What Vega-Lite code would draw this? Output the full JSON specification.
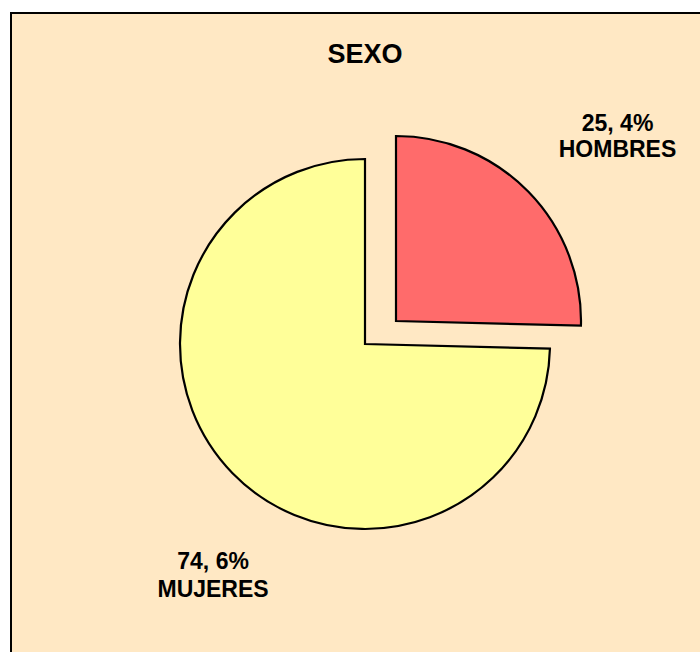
{
  "$schema": "https://vega.github.io/schema/vega-lite/v6.json",
  "autosize": "none",
  "padding": {"left": 11, "top": 13, "right": 0, "bottom": 0},
  "width": 708,
  "height": 662,
  "background": "#FFFFFF",
  "view": {"fill": "#FFE8C4", "stroke": "#000000", "strokeWidth": 2},
  "config": {
    "view": {"fill": "#FFE8C4", "stroke": "#000000", "strokeWidth": 2},
    "font": "Liberation Sans"
  },
  "title": {
    "text": "SEXO",
    "fontSize": 27,
    "fontWeight": "bold",
    "font": "Liberation Sans",
    "color": "#000000",
    "anchor": "middle",
    "baseline": "alphabetic",
    "offset": -50,
    "dy": 27
  },
  "data": {
    "values": [
      {"sexo": "HOMBRES", "porcentaje": 25.4, "etiqueta": "25, 4%\nHOMBRES"},
      {"sexo": "MUJERES", "porcentaje": 74.6, "etiqueta": "74, 6%\nMUJERES"}
    ]
  },
  "transform": [
    {"stack": "porcentaje", "groupby": [], "sort": [{"field": "sexo", "order": "ascending"}], "as": ["v0", "v1"]}
  ],
  "layer": [
    {
      "transform": [{"filter": "datum.sexo === 'MUJERES'"}],
      "mark": {"type": "arc", "radius": 185, "stroke": "#000000", "strokeWidth": 2.2, "strokeJoin": "miter"},
      "encoding": {
        "theta": {"field": "v0", "type": "quantitative", "scale": {"domain": [0, 100]}},
        "theta2": {"field": "v1"},
        "fill": {"field": "sexo", "type": "nominal", "scale": {"domain": ["HOMBRES", "MUJERES"], "range": ["#FF6B6B", "#FFFF99"]}, "legend": null}
      }
    },
    {
      "transform": [{"filter": "datum.sexo === 'HOMBRES'"}],
      "mark": {"type": "arc", "radius": 185, "stroke": "#000000", "strokeWidth": 2.2, "strokeJoin": "miter", "xOffset": 31, "yOffset": -23},
      "encoding": {
        "theta": {"field": "v0", "type": "quantitative", "scale": {"domain": [0, 100]}},
        "theta2": {"field": "v1"},
        "fill": {"field": "sexo", "type": "nominal", "legend": null}
      }
    },
    {
      "mark": {"type": "text", "radius": 315, "dx": 27, "dy": 0, "fontSize": 23, "fontWeight": "bold", "lineBreak": "\n", "lineHeight": 26, "align": "center", "baseline": "middle", "color": "#000000"},
      "encoding": {
        "theta": {"field": "porcentaje", "type": "quantitative", "stack": true},
        "order": {"field": "sexo", "sort": "ascending"},
        "text": {"condition": {"test": "datum.sexo === 'HOMBRES'", "field": "etiqueta"}, "value": ""}
      }
    },
    {
      "mark": {"type": "text", "radius": 310, "dx": 70, "dy": 2, "fontSize": 23, "fontWeight": "bold", "lineBreak": "\n", "lineHeight": 28, "align": "center", "baseline": "middle", "color": "#000000"},
      "encoding": {
        "theta": {"field": "porcentaje", "type": "quantitative", "stack": true},
        "order": {"field": "sexo", "sort": "ascending"},
        "text": {"condition": {"test": "datum.sexo === 'MUJERES'", "field": "etiqueta"}, "value": ""}
      }
    }
  ]
}
